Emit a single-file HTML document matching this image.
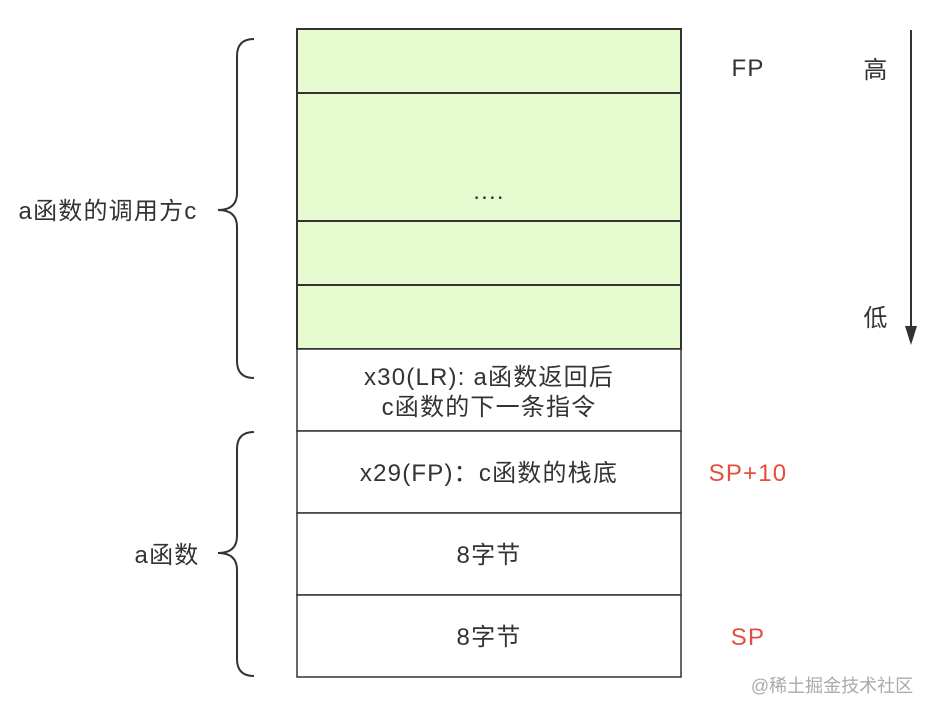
<!DOCTYPE html>
<html><head><meta charset="utf-8"><style>
html,body{margin:0;padding:0;background:#fff;}
svg{display:block;}
text{font-family:"Liberation Sans","Noto Sans CJK SC",sans-serif;font-size:24px;letter-spacing:1.2px;fill:#333;}
</style></head><body>
<svg width="930" height="716" viewBox="0 0 930 716" xmlns="http://www.w3.org/2000/svg">
<g stroke="#333" stroke-width="2" fill="#e6fbd0">
<rect x="297" y="29" width="384" height="64"/>
<rect x="297" y="93" width="384" height="128"/>
<rect x="297" y="221" width="384" height="64"/>
<rect x="297" y="285" width="384" height="64"/>
</g>
<g stroke="#333" stroke-width="1.5" fill="#fff">
<rect x="297" y="349" width="384" height="82"/>
<rect x="297" y="431" width="384" height="82"/>
<rect x="297" y="513" width="384" height="82"/>
<rect x="297" y="595" width="384" height="82"/>
</g>
<g fill="none" stroke="#333" stroke-width="2">
<path d="M254,39 Q237,39 237,56 L237,193 Q237,210 218,210 Q237,210 237,227 L237,361 Q237,378 254,378"/>
<path d="M254,432 Q237,432 237,449 L237,536 Q237,553 218,553 Q237,553 237,570 L237,659 Q237,676 254,676"/>
<line x1="911" y1="30" x2="911" y2="328"/>
</g>
<polygon points="905,326 917,326 911,345" fill="#333"/>
<text x="489" y="199" text-anchor="middle">....</text>
<text x="489" y="385" text-anchor="middle">x30(LR): a函数返回后</text>
<text x="489" y="415" text-anchor="middle">c函数的下一条指令</text>
<text x="489" y="481" text-anchor="middle">x29(FP)：c函数的栈底</text>
<text x="489" y="563" text-anchor="middle">8字节</text>
<text x="489" y="645" text-anchor="middle">8字节</text>
<text x="748" y="76" text-anchor="middle">FP</text>
<text x="748" y="481" text-anchor="middle" style="fill:#e74c3c">SP+10</text>
<text x="748" y="645" text-anchor="middle" style="fill:#e74c3c">SP</text>
<text x="876" y="78" text-anchor="middle">高</text>
<text x="876" y="326" text-anchor="middle">低</text>
<text x="108" y="219" text-anchor="middle">a函数的调用方c</text>
<text x="167" y="563" text-anchor="middle">a函数</text>
<text x="832" y="692" text-anchor="middle" style="font-size:18px;letter-spacing:0;fill:#aaa">@稀土掘金技术社区</text>
</svg>
</body></html>
